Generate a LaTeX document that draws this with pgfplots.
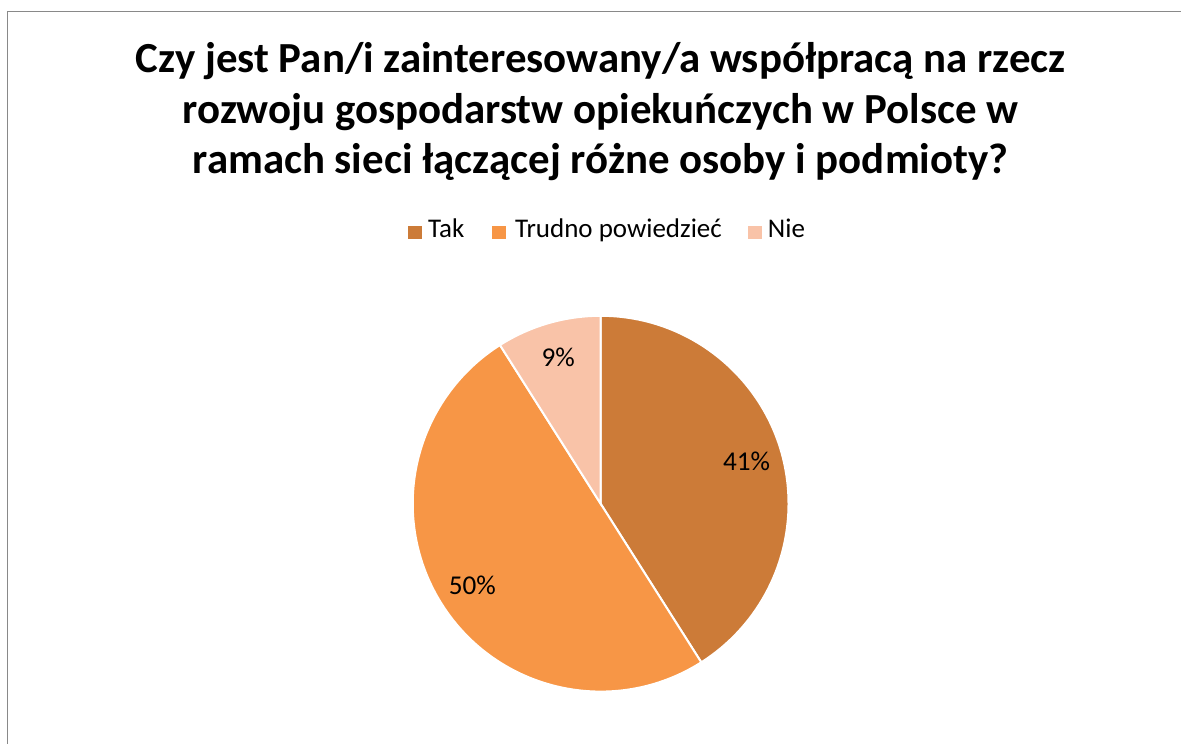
\documentclass[border=0pt]{standalone}
\usepackage{pgfplots}
\pgfplotsset{compat=1.18}
\usepackage{pgfplotstable}
\usepackage{fontspec}
\setmainfont{Carlito}
\definecolor{slice0}{RGB}{204,123,56}
\definecolor{slice1}{RGB}{247,150,70}
\definecolor{slice2}{RGB}{249,195,168}
\definecolor{framegray}{RGB}{137,137,137}
\newcommand\titlefont{\fontsize{21.45bp}{25bp}\selectfont\bfseries}
\newcommand\legendfont{\fontsize{13.5bp}{16bp}\selectfont}
\newcommand\labelfont{\fontsize{13.6bp}{16bp}\selectfont}

\pgfplotstableread[col sep=comma]{
label,value
Tak,41
Trudno powiedzieć,50
Nie,9
}\piedata

\begin{document}
\begin{tikzpicture}
\begin{axis}[x=0.5bp, y=0.5bp, xmin=0, xmax=1182, ymin=0, ymax=744,
  hide axis, clip=false, at={(0,0)}, anchor=south west]
\path (axis cs:0,0) rectangle (axis cs:1182,744);
\draw[framegray, line width=0.75bp] (axis cs:7.3,0) -- (axis cs:7.3,732.3) -- (axis cs:1182,732.3);
\node[anchor=base, inner sep=0pt, font=\titlefont] at (axis cs:601,671.7) {Czy jest Pan/i zainteresowany/a współpracą na rzecz};
\node[anchor=base, inner sep=0pt, font=\titlefont] at (axis cs:601,620.7) {rozwoju gospodarstw opiekuńczych w Polsce w};
\node[anchor=base, inner sep=0pt, font=\titlefont] at (axis cs:601,570.5) {ramach sieci łączącej różne osoby i podmioty?};
\def\cumul{0}
\pgfplotsforeachungrouped \i in {0,1,2}{%
  \pgfplotstablegetelem{\i}{value}\of\piedata
  \let\v\pgfplotsretval
  \pgfplotstablegetelem{\i}{label}\of\piedata
  \let\lab\pgfplotsretval
  \pgfmathsetmacro{\a}{90-3.6*\cumul}
  \pgfmathsetmacro{\b}{90-3.6*(\cumul+\v)}
  \pgfmathsetmacro{\m}{(\a+\b)/2}
  \pgfmathsetmacro{\cumul}{\cumul+\v}
  \pgfmathsetmacro{\sqx}{{408,492,748}[\i]}
  \pgfmathsetmacro{\sqxe}{\sqx+14}
  \pgfmathsetmacro{\txx}{{428,515,768}[\i]}
  \edef\temp{%
    \noexpand\fill[slice\i, draw=white, line width=1bp] (axis cs:601,240) -- ++(\a:94bp) arc[start angle=\a, end angle=\b, radius=94bp] -- cycle;
    \noexpand\node[font=\noexpand\labelfont, text=black, inner sep=0pt] at ([shift={(\m:76bp)}]axis cs:601,240) {\v\noexpand\%};
    \noexpand\fill[slice\i] (axis cs:\sqx,505) rectangle (axis cs:\sqxe,518);
    \noexpand\node[anchor=base west, inner sep=0pt, font=\noexpand\legendfont] at (axis cs:\txx,506) {\lab};
  }\temp
}
\end{axis}
\end{tikzpicture}
\end{document}
